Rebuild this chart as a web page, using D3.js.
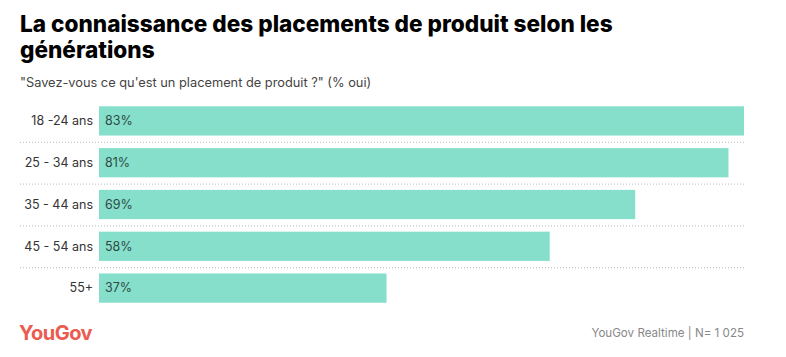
<!DOCTYPE html>
<html><head><meta charset="utf-8">
<script src="https://cdn.jsdelivr.net/npm/d3@7"></script>
<style>body{margin:0;background:#fff;} svg{display:block;font-family:Inter,"Noto Sans",sans-serif;}</style>
</head><body>
<svg id="c" width="786" height="357"></svg>
<script>
const categories = ["18 -24 ans","25 - 34 ans","35 - 44 ans","45 - 54 ans","55+"];
const values = [83,81,69,58,37];
const titleLines = ["La connaissance des placements de produit selon les","générations"];
const subtitle = "\"Savez-vous ce qu'est un placement de produit ?\" (% oui)";
const source = "YouGov Realtime | N= 1 025";

const svg = d3.select("#c");
const x = d3.scaleLinear().domain([0,83]).range([99,744]);
const y = d3.scaleBand().domain(categories).range([100,309]).paddingInner(0.3).paddingOuter(0.15);

svg.selectAll("text.title").data(titleLines).join("text")
  .attr("x",20).attr("y",(d,i)=>32+i*26)
  .attr("font-size",22.6).attr("font-weight",800).attr("fill","#000").text(d=>d);
svg.append("text").attr("x",20).attr("y",87).attr("font-size",12.8).attr("fill","#444").text(subtitle);

// dotted separators
svg.selectAll("line.sep").data(categories.slice(1)).join("line")
  .attr("x1",20).attr("x2",744)
  .attr("y1",d=>y(d)-y.step()*y.paddingInner()/2+0.5).attr("y2",d=>y(d)-y.step()*y.paddingInner()/2+0.5)
  .attr("stroke","#bbb").attr("stroke-dasharray","1,2").attr("stroke-width",1);

svg.selectAll("rect.bar").data(values).join("rect")
  .attr("x",x(0)).attr("y",(d,i)=>y(categories[i]))
  .attr("width",d=>x(d)-x(0)).attr("height",y.bandwidth()).attr("fill","#86dfcb");

svg.selectAll("text.val").data(values).join("text")
  .attr("x",x(0)+6).attr("y",(d,i)=>y(categories[i])+y.bandwidth()/2).attr("dy","0.35em")
  .attr("font-size",12.5).attr("fill","#2f4a45").text(d=>d+"%");

svg.selectAll("text.cat").data(categories).join("text")
  .attr("x",93).attr("y",d=>y(d)+y.bandwidth()/2).attr("dy","0.35em")
  .attr("text-anchor","end").attr("font-size",12.5).attr("fill","#333").text(d=>d);

svg.append("text").attr("x",19).attr("y",340).attr("font-size",20).attr("font-weight",700)
  .attr("fill","#ea5b50").attr("letter-spacing",-0.5).text("YouGov");
svg.append("text").attr("x",744).attr("y",337).attr("text-anchor","end").attr("font-size",11.6)
  .attr("fill","#888").text(source);
</script>
</body></html>
